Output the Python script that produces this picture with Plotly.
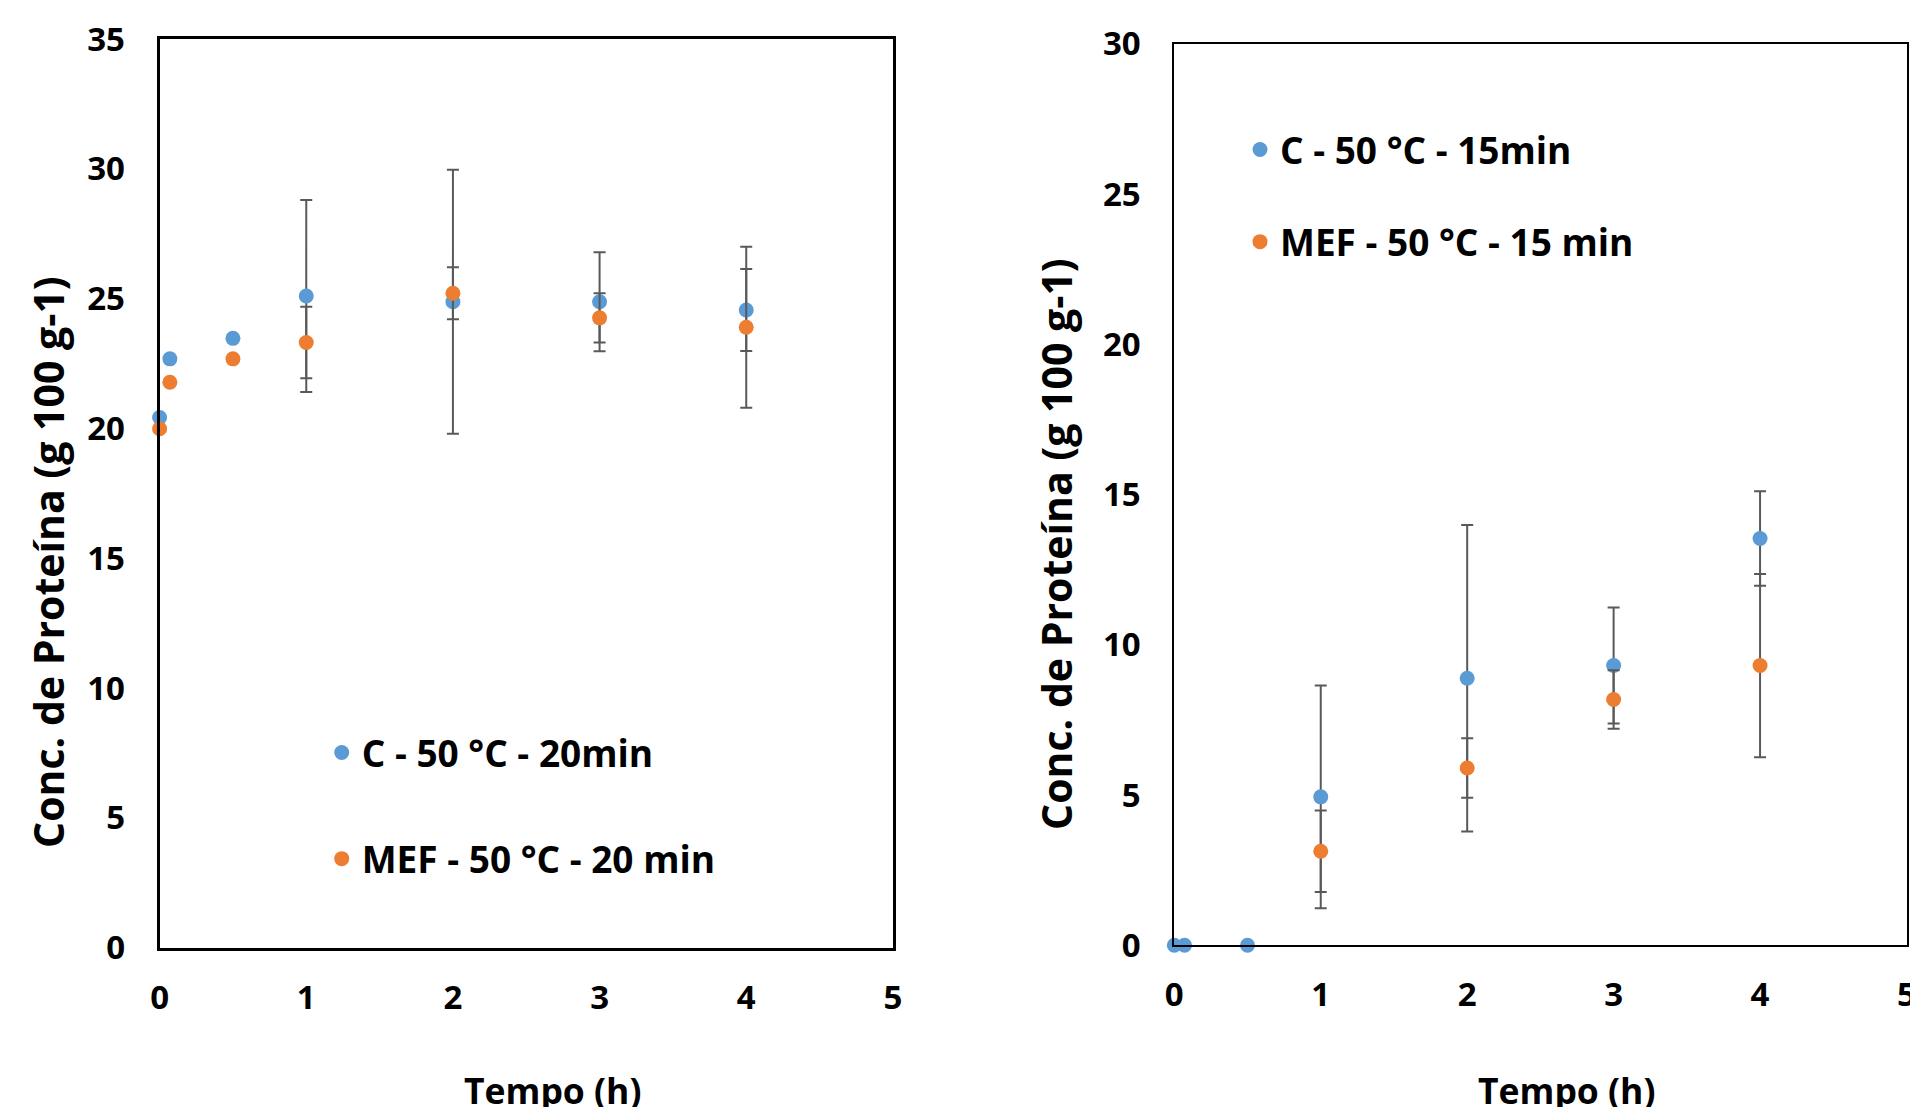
import plotly.graph_objects as go

# ---- data ----
time_left = [0, 0.07, 0.5, 1, 2, 3, 4]
c20 = [20.42, 22.68, 23.47, 25.10, 24.88, 24.88, 24.56]
c20_err = [None, None, None, 3.70, 5.08, 1.91, 1.58]
mef20 = [19.99, 21.78, 22.68, 23.31, 25.21, 24.26, 23.90]
mef20_err = [None, None, None, 1.38, 1.00, 0.95, 3.10]

time_right_c = [0, 0.07, 0.5, 1, 2, 3, 4]
c15 = [0, 0, 0, 4.94, 8.89, 9.31, 13.54]
c15_err = [None, None, None, 3.71, 5.10, 1.93, 1.57]
time_right_mef = [1, 2, 3, 4]
mef15 = [3.13, 5.90, 8.18, 9.31]
mef15_err = [1.36, 0.99, 0.97, 3.05]

names_left = ["C - 50 °C - 20min", "MEF - 50 °C - 20 min"]
names_right = ["C - 50 °C - 15min", "MEF - 50 °C - 15 min"]
x_title = "Tempo (h)"
y_title = "Conc. de Proteína (g 100 g-1)"

BLUE = "#5B9BD5"
ORANGE = "#ED7D31"
ERR = "#595959"
FONT = "Open Sans"

W, H = 1910, 1107


def err(arr):
    return dict(type="data", array=arr, visible=True, color=ERR, thickness=2, width=6)


fig = go.Figure()
fig.add_trace(go.Scatter(x=time_left, y=c20, mode="markers", name=names_left[0],
                         marker=dict(color=BLUE, size=15), error_y=err(c20_err),
                         xaxis="x", yaxis="y", legend="legend", legendgroup="a",
                         cliponaxis=False))
fig.add_trace(go.Scatter(x=time_left, y=mef20, mode="markers", name=names_left[1],
                         marker=dict(color=ORANGE, size=15), error_y=err(mef20_err),
                         xaxis="x", yaxis="y", legend="legend", legendgroup="b",
                         cliponaxis=False))
fig.add_trace(go.Scatter(x=time_right_c, y=c15, mode="markers", name=names_right[0],
                         marker=dict(color=BLUE, size=15), error_y=err(c15_err),
                         xaxis="x2", yaxis="y2", legend="legend2", legendgroup="c",
                         cliponaxis=False))
fig.add_trace(go.Scatter(x=time_right_mef, y=mef15, mode="markers", name=names_right[1],
                         marker=dict(color=ORANGE, size=15), error_y=err(mef15_err),
                         xaxis="x2", yaxis="y2", legend="legend2", legendgroup="d",
                         cliponaxis=False))

tickfont = dict(family=FONT, size=33, color="black", weight="bold")


def xax(domain, anchor, lw):
    return dict(domain=domain, anchor=anchor, range=[0, 5], dtick=1, tick0=0,
                showgrid=False, zeroline=False, showline=True, mirror=True,
                linecolor="black", linewidth=lw, ticks="", tickfont=tickfont,
                ticklabelstandoff=19, ticklabeloverflow="allow",
                fixedrange=True, automargin=False)


def yax(domain, anchor, rng, lw):
    return dict(domain=domain, anchor=anchor, range=rng, dtick=5, tick0=0,
                showgrid=False, zeroline=False, showline=True, mirror=True,
                linecolor="black", linewidth=lw, ticks="", tickfont=tickfont,
                ticklabelstandoff=25, ticklabeloverflow="allow",
                fixedrange=True, automargin=False)


def px_x(p):
    return p / W


def px_y(p):
    return 1 - p / H


fig.update_layout(
    width=W, height=H,
    margin=dict(l=0, r=0, t=0, b=0, autoexpand=False),
    paper_bgcolor="white", plot_bgcolor="white",
    font=dict(family=FONT, color="black"),
    xaxis=xax([px_x(159.6), px_x(892.9)], "y", 3),
    yaxis=yax([px_y(947.7), px_y(39.0)], "x", [0, 35], 3),
    xaxis2=xax([px_x(1174.3), px_x(1906.5)], "y2", 2),
    yaxis2=yax([px_y(945.3), px_y(43.9)], "x2", [0, 30], 2),
    legend=dict(x=px_x(321.7), y=px_y(722), xanchor="left", yanchor="top",
                bgcolor="rgba(0,0,0,0)", tracegroupgap=55,
                font=dict(family=FONT, size=37, color="black", weight="bold")),
    legend2=dict(x=px_x(1240), y=px_y(119), xanchor="left", yanchor="top",
                 bgcolor="rgba(0,0,0,0)", tracegroupgap=41,
                 font=dict(family=FONT, size=37, color="black", weight="bold")),
    showlegend=True,
)

title_font_y = dict(family=FONT, size=41, color="black", weight="bold")
title_font_x = dict(family=FONT, size=35.5, color="black", weight="bold")
fig.add_annotation(text=y_title, xref="paper", yref="paper", x=px_x(48), y=px_y(562),
                   textangle=-90, showarrow=False, font=title_font_y,
                   xanchor="center", yanchor="middle")
fig.add_annotation(text=y_title, xref="paper", yref="paper", x=px_x(1056), y=px_y(544),
                   textangle=-90, showarrow=False, font=title_font_y,
                   xanchor="center", yanchor="middle")
fig.add_annotation(text=x_title, xref="paper", yref="paper", x=px_x(552), y=px_y(1090),
                   showarrow=False, font=title_font_x, xanchor="center", yanchor="middle")
fig.add_annotation(text=x_title, xref="paper", yref="paper", x=px_x(1566), y=px_y(1090),
                   showarrow=False, font=title_font_x, xanchor="center", yanchor="middle")

fig.write_html(
    "out.html",
    config={"displayModeBar": False},
    post_script="document.body.style.margin='0';document.body.style.overflow='hidden';",
)
